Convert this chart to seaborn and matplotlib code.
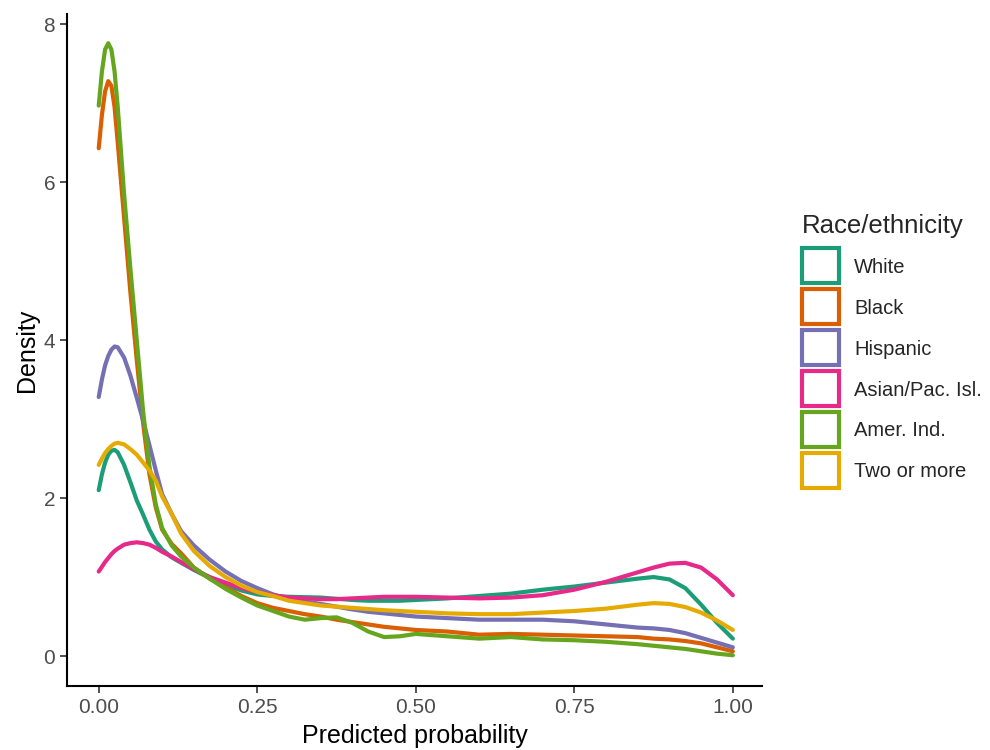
import matplotlib
matplotlib.use("Agg")
import matplotlib.pyplot as plt
from matplotlib.patches import Patch, Rectangle
from matplotlib.legend_handler import HandlerPatch
import numpy as np
import pandas as pd
import seaborn as sns

# ---- data ----
x_grid = [0, 0.005, 0.01, 0.015, 0.02, 0.025, 0.03, 0.04, 0.05, 0.06, 0.07, 0.08,
          0.09, 0.10, 0.115, 0.13, 0.15, 0.175, 0.2, 0.225, 0.25, 0.275, 0.3, 0.325,
          0.35, 0.375, 0.4, 0.425, 0.45, 0.475, 0.5, 0.55, 0.6, 0.65, 0.7, 0.75, 0.8,
          0.85, 0.875, 0.9, 0.925, 0.95, 0.975, 1.0]

white = [2.10, 2.30, 2.45, 2.55, 2.60, 2.61, 2.58, 2.42, 2.20, 1.97, 1.79, 1.60,
         1.45, 1.35, 1.25, 1.18, 1.09, 0.99, 0.90, 0.83, 0.78, 0.76, 0.75, 0.745,
         0.74, 0.725, 0.71, 0.70, 0.70, 0.70, 0.71, 0.73, 0.76, 0.79, 0.84, 0.88, 0.93,
         0.98, 1.00, 0.97, 0.86, 0.65, 0.42, 0.22]
black = [6.43, 6.85, 7.15, 7.28, 7.22, 6.95, 6.50, 5.55, 4.60, 3.75, 2.95, 2.30,
         1.88, 1.60, 1.42, 1.30, 1.12, 0.98, 0.87, 0.76, 0.67, 0.61, 0.57, 0.53,
         0.50, 0.46, 0.43, 0.40, 0.37, 0.35, 0.33, 0.31, 0.27, 0.28, 0.27, 0.26, 0.25,
         0.24, 0.22, 0.21, 0.19, 0.16, 0.11, 0.06]
hispanic = [3.28, 3.50, 3.68, 3.80, 3.88, 3.92, 3.91, 3.78, 3.55, 3.27, 2.98, 2.67,
            2.35, 2.05, 1.80, 1.58, 1.40, 1.22, 1.07, 0.95, 0.86, 0.78, 0.72, 0.69,
            0.66, 0.625, 0.59, 0.56, 0.54, 0.52, 0.50, 0.48, 0.46, 0.46, 0.46, 0.44, 0.40,
            0.36, 0.35, 0.33, 0.29, 0.23, 0.17, 0.11]
asian = [1.07, 1.13, 1.19, 1.24, 1.29, 1.33, 1.36, 1.41, 1.43, 1.44, 1.43, 1.41,
         1.37, 1.32, 1.26, 1.19, 1.10, 1.00, 0.93, 0.86, 0.81, 0.77, 0.74, 0.73,
         0.72, 0.72, 0.73, 0.74, 0.75, 0.75, 0.75, 0.74, 0.73, 0.74, 0.77, 0.84, 0.94,
         1.06, 1.12, 1.17, 1.18, 1.12, 0.97, 0.77]
amer_ind = [6.97, 7.40, 7.68, 7.76, 7.68, 7.40, 6.95, 5.85, 4.90, 4.00, 3.10, 2.40,
            1.92, 1.62, 1.40, 1.26, 1.12, 0.98, 0.85, 0.74, 0.64, 0.57, 0.50, 0.46,
            0.48, 0.49, 0.42, 0.31, 0.24, 0.25, 0.28, 0.25, 0.22, 0.24, 0.21, 0.20, 0.18,
            0.15, 0.13, 0.11, 0.09, 0.06, 0.03, 0.01]
two_more = [2.42, 2.50, 2.57, 2.62, 2.66, 2.69, 2.70, 2.68, 2.62, 2.55, 2.45, 2.35,
            2.22, 2.02, 1.80, 1.55, 1.33, 1.14, 1.00, 0.89, 0.81, 0.76, 0.70, 0.67,
            0.64, 0.625, 0.61, 0.595, 0.58, 0.57, 0.56, 0.54, 0.53, 0.53, 0.55, 0.57, 0.60,
            0.65, 0.67, 0.66, 0.62, 0.55, 0.45, 0.33]

groups = ["White", "Black", "Hispanic", "Asian/Pac. Isl.", "Amer. Ind.", "Two or more"]
colors = ["#1B9E77", "#D95F02", "#7570B3", "#E7298A", "#66A61E", "#E6AB02"]
series = [white, black, hispanic, asian, amer_ind, two_more]

x_ticks = [0.00, 0.25, 0.50, 0.75, 1.00]
x_ticklabels = ["0.00", "0.25", "0.50", "0.75", "1.00"]
y_ticks = [0, 2, 4, 6, 8]

df = pd.concat([pd.DataFrame({"x": x_grid, "density": s, "group": g})
                for g, s in zip(groups, series)], ignore_index=True)


class KeyHandler(HandlerPatch):
    """Square outlined key like ggplot's density legend."""
    def __init__(self, w, h, **kw):
        super().__init__(**kw)
        self.kw_, self.kh_ = w, h

    def create_artists(self, legend, orig_handle, xdescent, ydescent, width,
                       height, fontsize, trans):
        cx = -xdescent + width / 2
        cy = -ydescent + height / 2
        p = Rectangle((cx - self.kw_ / 2, cy - self.kh_ / 2), self.kw_, self.kh_,
                      facecolor="white", edgecolor=orig_handle.get_edgecolor(),
                      linewidth=3.0, transform=trans)
        return [p]


# ---- plot ----
sns.set_theme(style="white")
plt.rcParams["font.family"] = ["Liberation Sans", "DejaVu Sans"]

fig = plt.figure(figsize=(9.9, 7.5), dpi=100)
ax = fig.add_axes([0.0677, 0.0853, 0.702, 0.896])

sns.lineplot(data=df, x="x", y="density", hue="group", hue_order=groups,
             palette=colors, estimator=None, sort=False, linewidth=3.0,
             legend=False, ax=ax)

ax.set_xlim(-0.05, 1.046)
ax.set_ylim(-0.38, 8.13)
ax.set_xticks(x_ticks)
ax.set_xticklabels(x_ticklabels)
ax.set_yticks(y_ticks)
ax.tick_params(axis="both", colors="#333333", labelsize=15, length=5.0, width=1.2,
               direction="out", bottom=True, left=True, pad=3.5)
for lbl in ax.get_xticklabels() + ax.get_yticklabels():
    lbl.set_color("#4D4D4D")
for side in ["top", "right"]:
    ax.spines[side].set_visible(False)
for side in ["left", "bottom"]:
    ax.spines[side].set_color("black")
    ax.spines[side].set_linewidth(1.5)

ax.set_xlabel("Predicted probability", fontsize=18, color="black", labelpad=5)
ax.set_ylabel("Density", fontsize=18, color="black", labelpad=3.5)

handles = [Patch(facecolor="white", edgecolor=c, linewidth=3.0, label=g)
           for g, c in zip(groups, colors)]
leg = fig.legend(handles=handles, title="Race/ethnicity", loc="upper left",
                 bbox_to_anchor=(0.802, 0.7255), frameon=False, fontsize=14.5,
                 title_fontsize=18.5, handlelength=1.85, handleheight=1.6,
                 handletextpad=0.75, labelspacing=0.75, borderaxespad=0,
                 handler_map={Patch: KeyHandler(26.6, 25.2)})
leg._legend_box.align = "left"

fig.savefig("out.png", dpi=100)
